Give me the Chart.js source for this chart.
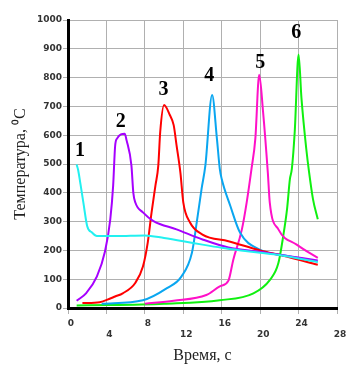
<!DOCTYPE html>
<html>
<head>
<meta charset="utf-8">
<script src="https://cdn.jsdelivr.net/npm/chart.js@4.4.1/dist/chart.umd.min.js"></script>
<style>
  html, body { margin: 0; padding: 0; background: #fff; }
  canvas { display: block; }
</style>
</head>
<body>
<canvas id="chart" width="350" height="367"></canvas>
<script>
// --- data (time in s, temperature in °C) ---
const time1 = [0.9, 1.05, 1.3, 1.6, 2.0, 2.5, 3.0, 5, 8, 10, 12, 14, 16, 18, 20, 22, 24, 26];
const temp1 = [498, 480, 430, 366, 284, 262, 250, 250, 252, 243, 232, 220, 209, 200, 192, 184, 172, 160];

const time2 = [0.9, 1.9, 3.0, 3.85, 4.4, 4.7, 4.9, 5.1, 5.9, 6.1, 6.6, 6.8, 7.0, 7.8, 8.9, 11.3, 14, 16.7, 20, 23, 26];
const temp2 = [25, 52, 109, 196, 308, 425, 560, 588, 605, 582, 495, 400, 367, 332, 302, 273, 238, 210, 195, 180, 165];

const time3 = [1.5, 3.3, 4.4, 4.9, 5.7, 7, 7.8, 8.3, 8.7, 9.1, 9.4, 9.6, 10, 10.6, 11, 11.3, 11.7, 12, 12.7, 14, 16.7, 20, 22.4, 26];
const temp3 = [17, 20, 33, 40, 51, 87, 144, 227, 332, 425, 495, 612, 705, 670, 635, 565, 470, 367, 297, 255, 232, 200, 181, 150];

const time4 = [3.5, 7.8, 10.3, 11.8, 12.9, 13.4, 13.9, 14.3, 15, 15.5, 15.8, 16, 16.9, 17.9, 20, 23, 26];
const temp4 = [15, 27, 69, 109, 192, 297, 413, 495, 740, 588, 483, 448, 354, 262, 202, 180, 161];

const time5 = [8, 11, 14.4, 15.8, 16.7, 17.2, 18.1, 18.6, 19.1, 19.5, 19.9, 20.3, 20.8, 21, 21.9, 23.8, 26];
const temp5 = [15, 25, 45, 75, 95, 167, 273, 367, 483, 588, 810, 683, 470, 367, 273, 220, 174];

const time6 = [0.9, 4.4, 10, 15.8, 19.3, 21, 21.9, 22.4, 22.8, 23.1, 23.3, 23.6, 24, 24.3, 24.8, 25.1, 25.5, 26];
const temp6 = [9, 10, 15, 27, 51, 97, 156, 249, 343, 448, 483, 612, 880, 729, 553, 470, 378, 308];

const curveColors = ['#22f0f0', '#a600ff', '#ff0000', '#0aa6f0', '#ff10c8', '#10f010'];

// curve numbers and where they sit (data coords)
const curveLabels = ['1', '2', '3', '4', '5', '6'];
const curveLabelX = [1.25, 5.5, 9.95, 14.7, 20, 23.75];
const curveLabelY = [547, 645, 758, 805, 852, 957];

const xTicks = { min: 0, max: 28, step: 4 };
const yTicks = { min: 0, max: 1000, step: 100 };

function toPoints(xs, ys) {
    return xs.map((x, i) => ({ x: x, y: ys[i] }));
}

const series = [[time1, temp1], [time2, temp2], [time3, temp3], [time4, temp4], [time5, temp5], [time6, temp6]];

// draw the bold curve numbers
const curveNumbers = {
    id: 'curveNumbers',
    afterDatasetsDraw(chart) {
        const ctx = chart.ctx;
        const xs = chart.scales.x, ys = chart.scales.y;
        ctx.save();
        ctx.font = "bold 20px 'Liberation Serif'";
        ctx.fillStyle = '#000';
        ctx.textAlign = 'center';
        ctx.textBaseline = 'middle';
        curveLabels.forEach((t, i) => {
            ctx.fillText(t, xs.getPixelForValue(curveLabelX[i]), ys.getPixelForValue(curveLabelY[i]));
        });
        ctx.restore();
    }
};

const tickFont = { family: "'DejaVu Sans'", size: 9, weight: 'bold' };

new Chart(document.getElementById('chart').getContext('2d'), {
    type: 'scatter',
    data: {
        datasets: series.map((s, i) => ({
            data: toPoints(s[0], s[1]),
            showLine: true,
            borderColor: curveColors[i],
            backgroundColor: curveColors[i],
            borderWidth: 2,
            pointRadius: 0,
            cubicInterpolationMode: 'monotone'
        }))
    },
    options: {
        responsive: false,
        animation: false,
        layout: { padding: { top: 20, right: 13, left: 0, bottom: 0 } },
        plugins: {
            legend: { display: false },
            tooltip: { enabled: false }
        },
        scales: {
            x: {
                type: 'linear',
                min: xTicks.min,
                max: xTicks.max,
                afterFit(scale) { scale.height = 59; },
                border: { color: '#000', width: 3 },
                grid: { color: '#b0b0b0', lineWidth: 1, tickLength: 6 },
                ticks: {
                    stepSize: xTicks.step,
                    autoSkip: false,
                    maxRotation: 0,
                    color: '#333',
                    font: tickFont,
                    padding: 4,
                    labelOffset: 3,
                    callback: (v, i) => (i % 2 ? ['', String(v)] : String(v))
                },
                title: {
                    display: true,
                    text: 'Время, с',
                    color: '#222',
                    font: { family: "'Liberation Serif'", size: 16 },
                    padding: { top: 0, bottom: 2 }
                }
            },
            y: {
                type: 'linear',
                min: yTicks.min,
                max: yTicks.max,
                afterFit(scale) { scale.width = 68; },
                border: { color: '#000', width: 3 },
                grid: { color: '#b0b0b0', lineWidth: 1, tickLength: 5 },
                ticks: {
                    stepSize: yTicks.step,
                    color: '#333',
                    font: tickFont,
                    padding: 1,
                    callback: v => String(v)
                },
                title: {
                    display: true,
                    text: 'Температура, ⁰С',
                    color: '#222',
                    font: { family: "'Liberation Serif'", size: 16 },
                    padding: { top: 11, bottom: 0 }
                }
            }
        }
    },
    plugins: [curveNumbers]
});
</script>
</body>
</html>
